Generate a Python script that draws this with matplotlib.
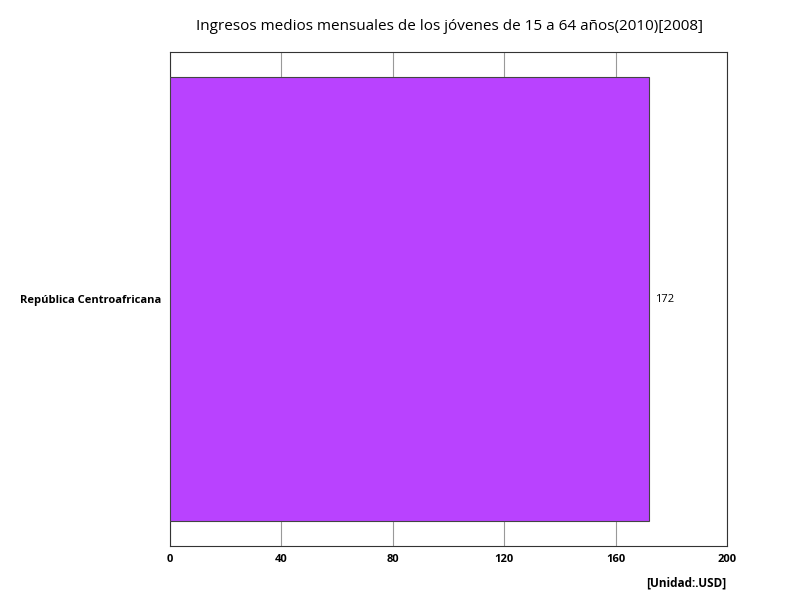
import matplotlib
matplotlib.use("Agg")
import matplotlib.pyplot as plt

countries = ["República Centroafricana"]
values = [172]
ticks = [0, 40, 80, 120, 160, 200]

plt.rcParams["font.family"] = ["Open Sans", "DejaVu Sans"]

fig = plt.figure(figsize=(8, 6), dpi=100)
ax = fig.add_axes([0.2125, 0.09, 0.69625, 0.8233])
ax.barh(range(len(countries)), values, height=0.897, color="#b942ff",
        edgecolor="#444444", linewidth=0.8, zorder=3)
ax.set_ylim(-0.5, 0.5)
ax.set_xlim(0, 200)
ax.set_xticks(ticks)
ax.set_xticklabels([str(t) for t in ticks], fontsize=8, fontweight="bold")
ax.set_yticks(range(len(countries)))
ax.set_yticklabels(countries, fontsize=8, fontweight="bold")
ax.tick_params(length=0, pad=6)
ax.grid(axis="x", color="#999999", lw=0.8, zorder=0)
for s in ax.spines.values():
    s.set_color("#333333")
for i, v in enumerate(values):
    ax.text(v + 2, i, str(v), va="center", ha="left", fontsize=8)
fig.text(0.5625, 0.955, "Ingresos medios mensuales de los jóvenes de 15 a 64 años(2010)[2008]",
         ha="center", va="center", fontsize=11)
fig.text(0.908, 0.028, "[Unidad:.USD]", ha="right", va="center", fontsize=8.5,
         fontweight="bold")
fig.savefig("out.png", dpi=100)
